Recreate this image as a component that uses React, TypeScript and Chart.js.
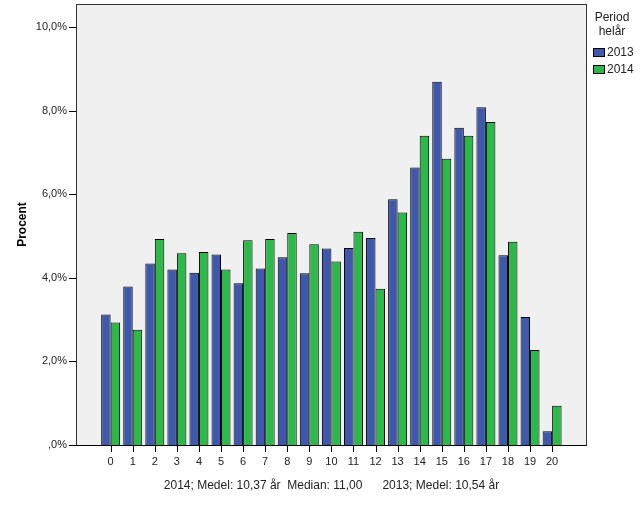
import React, { useEffect, useRef } from "react";
import { Chart, registerables } from "chart.js";

Chart.register(...registerables);

const categories: number[] = [0, 1, 2, 3, 4, 5, 6, 7, 8, 9, 10, 11, 12, 13, 14, 15, 16, 17, 18, 19, 20];
const values2013: number[] = [3.12, 3.79, 4.34, 4.2, 4.12, 4.56, 3.87, 4.22, 4.49, 4.11, 4.7, 4.71, 4.95, 5.88, 6.64, 8.69, 7.59, 8.08, 4.54, 3.06, 0.33];
const values2014: number[] = [2.93, 2.76, 4.93, 4.59, 4.62, 4.2, 4.9, 4.93, 5.07, 4.8, 4.39, 5.1, 3.74, 5.56, 7.4, 6.85, 7.4, 7.73, 4.86, 2.27, 0.94];
const yTicks: number[] = [0, 2, 4, 6, 8, 10];
const seriesNames: string[] = ["2013", "2014"];
const seriesColors: string[] = ["#3E58AC", "#2DB84A"];
const legendTitle: string[] = ["Period", "helår"];
const xTitle = "2014; Medel: 10,37 år  Median: 11,00      2013; Medel: 10,54 år";
const yTitle = "Procent";

const FONT = "'Liberation Sans', Arial, sans-serif";

export default function App() {
  const ref = useRef<HTMLCanvasElement | null>(null);
  useEffect(() => {
    if (!ref.current) return;
    const framePlugin = {
      id: "frame",
      beforeDraw(chart: any) {
        const { ctx, chartArea } = chart;
        ctx.save();
        ctx.fillStyle = "#F0F0F0";
        ctx.fillRect(chartArea.left, chartArea.top, chartArea.right - chartArea.left, chartArea.bottom - chartArea.top);
        ctx.restore();
      },
      afterDraw(chart: any) {
        const { ctx, chartArea } = chart;
        ctx.save();
        const L = Math.round(chartArea.left);
        const R = Math.round(chartArea.right);
        const T = Math.round(chartArea.top);
        const B = Math.round(chartArea.bottom);
        ctx.fillStyle = "#333";
        ctx.fillRect(L, T, 1, B - T);
        ctx.fillRect(L, T, R - L, 1);
        ctx.fillRect(R - 1, T, 1, B - T);
        ctx.fillStyle = "#000";
        ctx.fillRect(L, B, R - L, 1);
        const xs = chart.scales.x;
        const ys = chart.scales.y;
        categories.forEach((c) => {
          ctx.fillRect(Math.round(xs.getPixelForValue(c)), B, 1, 7);
        });
        yTicks.forEach((v) => {
          ctx.fillRect(L - 7, Math.round(ys.getPixelForValue(v)), 7, 1);
        });
        // legend
        ctx.fillStyle = "#222";
        ctx.font = "12px " + FONT;
        ctx.textAlign = "center";
        ctx.textBaseline = "middle";
        ctx.fillText(legendTitle[0], 612, 18);
        ctx.fillText(legendTitle[1], 612, 32);
        ctx.textAlign = "left";
        seriesNames.forEach((name, i) => {
          const y = 48 + i * 17;
          ctx.fillStyle = seriesColors[i];
          ctx.fillRect(593, y, 12, 9);
          ctx.strokeStyle = "#000";
          ctx.lineWidth = 1;
          ctx.strokeRect(593.5, y + 0.5, 11, 8);
          ctx.fillStyle = "#222";
          ctx.fillText(name, 607, y + 5);
        });
        ctx.restore();
      },
    };
    const chart = new Chart(ref.current, {
      type: "bar",
      data: {
        datasets: [
          {
            label: seriesNames[0],
            data: categories.map((c, i) => ({ x: c, y: values2013[i] })),
            backgroundColor: seriesColors[0],
            borderColor: "#000",
            borderWidth: 1,
          },
          {
            label: seriesNames[1],
            data: categories.map((c, i) => ({ x: c, y: values2014[i] })),
            backgroundColor: seriesColors[1],
            borderColor: "#000",
            borderWidth: 1,
          },
        ],
      },
      options: {
        animation: false,
        responsive: false,
        maintainAspectRatio: false,
        layout: { padding: { top: 4, right: 54, left: 0, bottom: 0 } },
        datasets: { bar: { categoryPercentage: 0.86, barPercentage: 1 } },
        plugins: { legend: { display: false }, tooltip: { enabled: false } },
        scales: {
          x: {
            type: "linear",
            offset: false,
            min: -1.57,
            max: 21.58,
            afterFit(scale: any) {
              scale.height = 60;
            },
            afterBuildTicks(scale: any) {
              scale.ticks = categories.map((c) => ({ value: c }));
            },
            border: { display: false },
            grid: { display: false, tickLength: 8 },
            ticks: {
              autoSkip: false,
              maxRotation: 0,
              padding: 2,
              color: "#222",
              font: { family: FONT, size: 11 },
              callback: (v: any) => String(v),
            },
            title: {
              display: true,
              text: xTitle,
              color: "#222",
              font: { family: FONT, size: 12 },
              padding: { top: 0, bottom: 12 },
            },
          },
          y: {
            min: 0,
            max: 10.55,
            afterFit(scale: any) {
              scale.width = 76;
              scale.paddingTop = 0;
              scale.paddingBottom = 0;
            },
            afterBuildTicks(scale: any) {
              scale.ticks = yTicks.map((v) => ({ value: v }));
            },
            border: { display: false },
            grid: { display: false, tickLength: 8 },
            ticks: {
              padding: 1,
              color: "#222",
              font: { family: FONT, size: 11 },
              callback: (v: any) => (v === 0 ? ",0%" : Number(v).toFixed(1).replace(".", ",") + "%"),
            },
            title: {
              display: true,
              text: yTitle,
              color: "#000",
              font: { family: FONT, size: 12, weight: "bold" },
              padding: { top: 15, bottom: 0 },
            },
          },
        },
      },
      plugins: [framePlugin],
    } as any);
    return () => chart.destroy();
  }, []);
  return (
    <div style={{ position: "absolute", left: 0, top: 0, width: 641, height: 505, background: "#fff" }}>
      <canvas ref={ref} width={641} height={505} style={{ width: 641, height: 505 }} />
    </div>
  );
}
